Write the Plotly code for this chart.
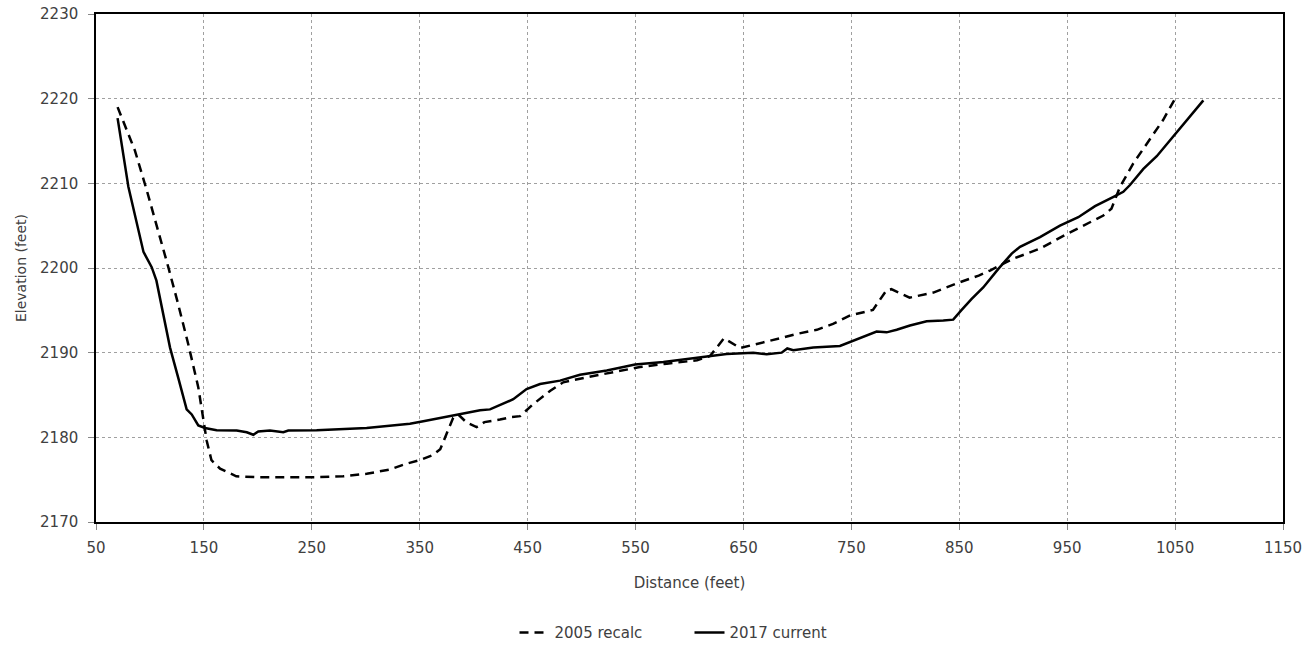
import plotly.graph_objects as go

# 2005 recalc (dashed)
x_2005 = [70, 78.4, 86, 97, 106, 117, 126, 135.5, 144.8, 149.4, 152.6, 157, 165, 180, 200, 225,
          254.5, 279, 300.8, 322.5, 338, 350, 362, 369, 375, 381, 385.7, 393.4, 402.7, 410, 424.4,
          435, 443, 455, 471, 483, 505, 529.5, 554, 579, 607, 619, 629.5, 632, 646.8, 662, 684,
          699, 718, 733, 749, 770, 782.7, 787, 804, 826, 848, 868, 878.5, 900, 925, 949.5, 968,
          983.5, 991, 994.3, 999, 1011, 1024, 1039, 1050]
y_2005 = [2219, 2216.3, 2213.9, 2209.2, 2205.2, 2200.1, 2195.8, 2191, 2185.9, 2182.3, 2179.6,
          2177.3, 2176.3, 2175.4, 2175.3, 2175.3, 2175.3, 2175.4, 2175.7, 2176.2, 2176.9, 2177.3,
          2177.9, 2178.6, 2180.4, 2182.3, 2182.7, 2181.75, 2181.2, 2181.8, 2182.1, 2182.4, 2182.5,
          2183.9, 2185.5, 2186.5, 2187.1, 2187.7, 2188.3, 2188.7, 2189.1, 2189.6, 2191.4, 2191.7,
          2190.55, 2191, 2191.7, 2192.2, 2192.7, 2193.4, 2194.4, 2195.05, 2197.4, 2197.5, 2196.5,
          2197.1, 2198.2, 2199.1, 2199.7, 2201.1, 2202.3, 2204, 2205.2, 2206.2, 2207, 2208, 2209.6,
          2212.3, 2214.7, 2217.5, 2220]

# 2017 current (solid)
x_2017 = [70, 80, 94, 101.6, 106, 112, 118.6, 126.3, 134, 138.7, 144.8, 151, 161.8, 180.4, 189.7,
          195.8, 200.4, 211.2, 223.6, 228.2, 254.5, 300.8, 316.2, 340.9, 353.3, 378, 385.7, 405.9,
          415.1, 424.4, 436.7, 449, 461.5, 480, 498.5, 523.3, 549.5, 575.8, 606.7, 634.4, 659.1,
          671.5, 685.4, 690.6, 696.2, 714.7, 739.4, 751.8, 764.2, 773.4, 782.7, 792, 804.3, 819.8,
          835.2, 844.4, 852.2, 861.5, 872.2, 886.2, 898.6, 906.3, 924.8, 943.3, 960.3, 975.8, 994.3,
          1002, 1008.2, 1020.6, 1033, 1045.3, 1060.8, 1076.2]
y_2017 = [2217.7, 2209.6, 2201.9, 2200.1, 2198.5, 2194.6, 2190.6, 2187, 2183.3, 2182.7, 2181.4,
          2181.1, 2180.85, 2180.8, 2180.6, 2180.3, 2180.7, 2180.8, 2180.6, 2180.8, 2180.85, 2181.1,
          2181.3, 2181.6, 2181.9, 2182.5, 2182.7, 2183.2, 2183.3, 2183.8, 2184.5, 2185.7, 2186.3,
          2186.7, 2187.4, 2187.9, 2188.6, 2188.9, 2189.4, 2189.85, 2190.0, 2189.8, 2190.0, 2190.5,
          2190.3, 2190.6, 2190.8, 2191.4, 2192.0, 2192.5, 2192.4, 2192.7, 2193.2, 2193.7, 2193.8,
          2193.9, 2195.05, 2196.35, 2197.7, 2199.9, 2201.7, 2202.5, 2203.65, 2205.0, 2206.0,
          2207.3, 2208.5, 2209.0, 2209.8, 2211.7, 2213.2, 2215.1, 2217.5, 2219.8]

x_ticks = [50, 150, 250, 350, 450, 550, 650, 750, 850, 950, 1050, 1150]
y_ticks = [2170, 2180, 2190, 2200, 2210, 2220, 2230]

FONT = "DejaVu Sans"
TXT = "#404040"

fig = go.Figure()
fig.add_trace(go.Scatter(x=x_2005, y=y_2005, mode="lines", name="2005 recalc",
                         line=dict(color="black", width=2.5, dash="9px,6px")))
fig.add_trace(go.Scatter(x=x_2017, y=y_2017, mode="lines", name="2017 current",
                         line=dict(color="black", width=2.5)))

fig.update_layout(
    width=1312, height=649,
    margin=dict(l=96, r=29, t=14, b=127, autoexpand=False),
    paper_bgcolor="white", plot_bgcolor="white",
    font=dict(family=FONT, size=15, color=TXT),
    showlegend=True,
    legend=dict(orientation="h", x=0.5, xanchor="center", y=-0.218, yanchor="middle",
                font=dict(family=FONT, size=15, color=TXT), itemwidth=30,
                entrywidth=130, entrywidthmode="pixels"),
)
fig.update_xaxes(range=[50, 1150], tickmode="array", tickvals=x_ticks,
                 showgrid=True, gridcolor="#a0a0a0", griddash="dot", gridwidth=1,
                 showline=True, linecolor="black", linewidth=1.5, mirror=True,
                 ticks="outside", ticklen=6, tickcolor="#888888",
                 ticklabelstandoff=5,
                 zeroline=False, automargin=False,
                 title=dict(text="Distance (feet)", standoff=22,
                            font=dict(family=FONT, size=15, color=TXT)))
fig.update_yaxes(range=[2170, 2230], tickmode="array", tickvals=y_ticks,
                 showgrid=True, gridcolor="#a0a0a0", griddash="dot", gridwidth=1,
                 showline=True, linecolor="black", linewidth=1.5, mirror=True,
                 ticks="outside", ticklen=6, tickcolor="#888888",
                 ticklabelstandoff=7,
                 zeroline=False, automargin=False,
                 title=dict(text="Elevation (feet)", standoff=10,
                            font=dict(family=FONT, size=14, color=TXT)))

fig.write_html("out.html", config={"displayModeBar": False},
               post_script="document.body.style.margin='0';")
